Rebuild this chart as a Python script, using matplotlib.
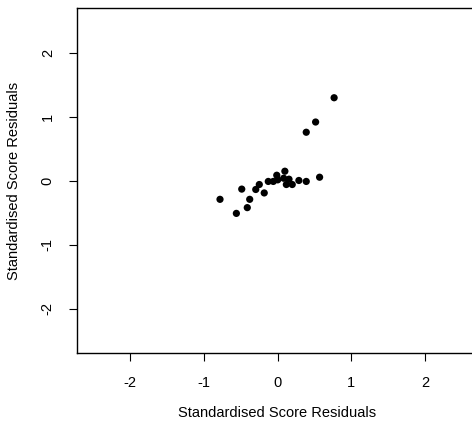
import numpy as np
import matplotlib
matplotlib.use("Agg")
import matplotlib.pyplot as plt

plt.rcParams['font.family'] = ['Liberation Sans', 'DejaVu Sans']

# standardised residuals, pairs of (x, y)
res_x = [0.768, 0.517, 0.39, 0.571, 0.39, 0.29, 0.20, 0.156, 0.12, 0.10, 0.084,
         -0.01, 0.003, -0.057, -0.125, -0.18, -0.247, -0.295, -0.485, -0.377,
         -0.41, -0.558, -0.78]
res_y = [1.30, 0.92, 0.76, 0.056, -0.01, 0.005, -0.058, 0.025, -0.058, 0.15, 0.04,
         0.087, 0.015, -0.01, -0.01, -0.19, -0.058, -0.136, -0.13, -0.29,
         -0.42, -0.51, -0.29]
ticks = [-2, -1, 0, 1, 2]

fig = plt.figure(figsize=(4.72, 4.25), dpi=100)
ax = fig.add_axes([77 / 472, 1 - 353.3 / 425, 401 / 472, 345 / 425])

ax.scatter(res_x, res_y, s=27, color='black', edgecolors='none', zorder=3)

ax.set_xlim(-2.72, 2.72)
ax.set_ylim(-2.7, 2.7)
ax.set_xticks(ticks)
ax.set_yticks(ticks)
ax.set_xticklabels([str(t) for t in ticks], fontsize=10.5)
ax.set_yticklabels([str(t) for t in ticks], fontsize=10.5, rotation=90, va='center')
ax.tick_params(length=6, width=0.8, pad=10, colors='black')
for s in ax.spines.values():
    s.set_linewidth(1.0)

ax.set_xlabel('Standardised Score Residuals', fontsize=10.5, labelpad=12)
ax.set_ylabel('Standardised Score Residuals', fontsize=10.5, labelpad=14)

fig.savefig('out.png', dpi=100)
